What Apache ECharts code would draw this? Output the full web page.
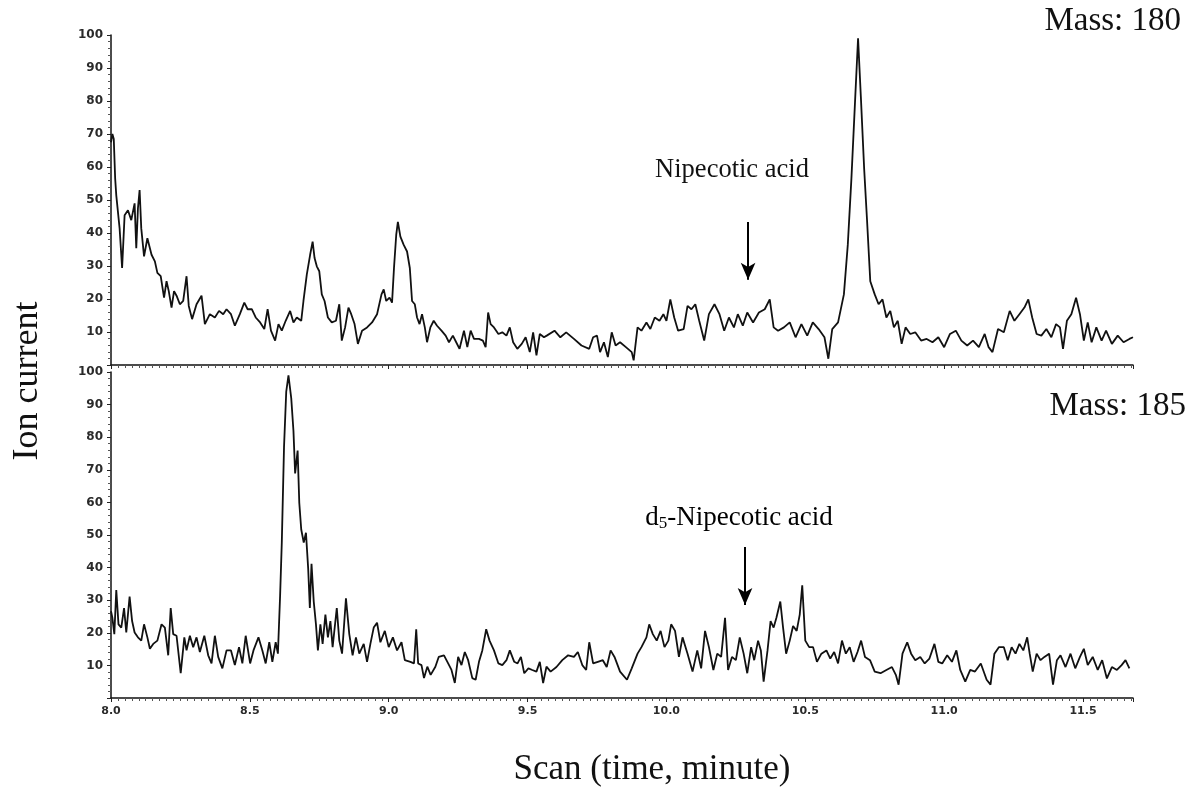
<!DOCTYPE html>
<html><head><meta charset="utf-8">
<script src="https://cdn.jsdelivr.net/npm/echarts@6/dist/echarts.min.js"></script>
<style>html,body{margin:0;padding:0;background:#fff}#c{width:1198px;height:787px}</style>
</head><body><div id="c"></div>
<script>
// ---- data (time in minutes, relative ion current %) ----
const mass180 = [
[8.000,67.5],[8.005,70.0],[8.010,68.5],[8.015,56.5],[8.019,51.4],[8.031,41.4],[8.040,29.4],[8.049,45.4],[8.061,46.9],[8.073,43.9],[8.085,49.0],[8.091,35.4],[8.097,47.5],[8.103,53.0],[8.109,41.4],[8.119,32.9],[8.131,38.4],[8.146,33.4],[8.158,31.4],[8.167,27.9],[8.179,26.9],[8.191,20.4],[8.200,25.4],[8.208,22.4],[8.218,17.4],[8.227,22.4],[8.236,21.0],[8.248,18.4],[8.260,19.4],[8.272,26.9],[8.280,17.9],[8.292,13.9],[8.308,18.4],[8.326,21.0],[8.338,12.4],[8.356,15.4],[8.374,14.4],[8.389,16.4],[8.404,15.4],[8.416,16.9],[8.432,15.4],[8.446,11.9],[8.464,15.4],[8.480,18.9],[8.492,16.9],[8.507,16.9],[8.521,14.4],[8.537,12.9],[8.552,10.9],[8.564,16.9],[8.576,10.4],[8.591,7.4],[8.603,12.4],[8.615,10.4],[8.629,13.4],[8.645,16.4],[8.657,12.9],[8.669,14.4],[8.685,13.4],[8.693,19.4],[8.705,27.4],[8.717,33.4],[8.726,37.4],[8.733,32.4],[8.741,29.9],[8.750,28.4],[8.759,21.4],[8.769,19.4],[8.781,14.4],[8.795,12.9],[8.810,13.4],[8.822,18.4],[8.831,7.4],[8.843,11.4],[8.855,17.4],[8.865,15.4],[8.877,12.4],[8.889,6.4],[8.904,10.4],[8.922,11.4],[8.940,12.9],[8.958,15.4],[8.974,21.4],[8.982,22.9],[8.991,19.4],[9.003,20.4],[9.012,18.9],[9.019,29.4],[9.027,39.4],[9.033,43.4],[9.042,38.9],[9.054,36.4],[9.066,34.4],[9.076,29.4],[9.084,19.4],[9.094,18.4],[9.102,14.4],[9.111,12.4],[9.120,15.4],[9.130,11.4],[9.138,6.9],[9.150,11.4],[9.162,13.4],[9.174,11.9],[9.190,10.4],[9.205,8.9],[9.217,6.9],[9.231,8.9],[9.243,6.9],[9.255,4.9],[9.271,10.4],[9.283,5.4],[9.295,10.4],[9.307,7.9],[9.325,7.9],[9.339,7.4],[9.349,5.4],[9.358,15.9],[9.367,12.4],[9.379,11.4],[9.395,9.4],[9.409,9.9],[9.424,8.9],[9.436,11.4],[9.448,6.9],[9.463,4.9],[9.479,6.4],[9.493,8.4],[9.508,3.9],[9.520,9.9],[9.532,2.9],[9.544,9.4],[9.559,8.4],
[9.569,8.9],[9.597,10.4],[9.618,8.4],[9.639,9.9],[9.667,7.9],[9.694,5.9],[9.722,4.9],[9.736,8.4],[9.750,8.9],[9.761,3.9],[9.775,6.9],[9.789,2.4],[9.803,9.9],[9.817,5.9],[9.833,6.9],[9.854,5.4],[9.875,3.9],[9.882,1.4],[9.896,11.4],[9.910,10.4],[9.928,12.9],[9.942,10.9],[9.958,14.4],[9.975,13.4],[9.989,15.4],[10.000,13.4],[10.014,19.9],[10.028,14.4],[10.042,10.4],[10.062,10.9],[10.076,17.9],[10.090,16.9],[10.104,18.4],[10.118,13.4],[10.136,7.4],[10.153,15.4],[10.173,18.4],[10.191,15.4],[10.208,10.4],[10.225,14.4],[10.243,11.4],[10.257,15.4],[10.275,11.9],[10.291,15.9],[10.312,12.9],[10.333,15.9],[10.354,16.9],[10.372,19.9],[10.386,11.4],[10.402,10.4],[10.423,11.4],[10.444,12.9],[10.465,8.4],[10.486,12.4],[10.507,8.9],[10.527,12.9],[10.548,10.9],[10.569,8.4],[10.583,1.9],[10.597,10.9],[10.618,12.9],[10.639,21.4],[10.653,36.4],[10.666,56.4],[10.680,81.4],[10.690,99.0],[10.700,81.4],[10.712,59.4],[10.722,44.4],[10.734,25.4],[10.750,21.4],[10.764,18.4],[10.778,19.9],[10.792,14.4],[10.806,16.4],[10.819,11.4],[10.833,13.4],[10.847,6.4],[10.861,11.4],[10.878,9.4],[10.896,9.9],[10.917,7.4],[10.937,7.9],[10.958,6.9],[10.979,8.4],[11.000,5.4],[11.021,9.4],[11.042,10.4],[11.062,7.4],[11.083,5.9],[11.104,7.4],[11.125,5.4],[11.146,9.4],[11.160,5.4],[11.174,3.9],[11.194,10.9],[11.215,9.9],[11.236,16.4],[11.253,13.4],[11.271,15.4],[11.289,17.4],[11.303,19.9],[11.317,14.4],[11.333,9.4],[11.350,8.9],[11.368,10.9],[11.386,8.4],[11.403,12.4],[11.417,11.4],[11.428,4.9],[11.442,13.4],[11.458,15.4],[11.475,20.4],[11.489,15.4],[11.503,7.4],[11.517,12.9],[11.531,6.9],[11.548,11.4],[11.567,7.4],[11.583,10.4],[11.604,6.4],[11.625,8.9],[11.646,6.9],[11.667,7.9],[11.680,8.4]
];
const mass185 = [
[8.000,26.6],[8.005,24.6],[8.012,19.6],[8.019,33.1],[8.027,22.6],[8.037,21.6],[8.047,27.6],[8.055,20.1],[8.067,31.1],[8.076,23.6],[8.085,20.1],[8.097,18.6],[8.109,17.6],[8.119,22.6],[8.131,18.6],[8.140,15.1],[8.152,16.6],[8.167,17.6],[8.182,22.6],[8.194,21.6],[8.206,13.1],[8.215,27.6],[8.224,19.6],[8.236,19.1],[8.251,7.6],[8.264,18.6],[8.272,14.6],[8.284,19.1],[8.296,15.6],[8.308,18.6],[8.320,14.1],[8.336,19.1],[8.350,13.1],[8.362,10.6],[8.374,19.1],[8.386,12.6],[8.401,9.1],[8.416,14.6],[8.432,14.6],[8.446,10.1],[8.461,15.6],[8.473,10.6],[8.485,19.1],[8.501,10.6],[8.513,14.6],[8.531,18.6],[8.545,14.6],[8.557,10.6],[8.570,17.1],[8.581,11.1],[8.593,17.1],[8.601,13.6],[8.609,31.6],[8.615,47.7],[8.623,76.9],[8.631,94.0],[8.639,99.0],[8.649,92.0],[8.657,81.9],[8.663,68.9],[8.672,75.9],[8.678,59.8],[8.685,51.7],[8.694,47.7],[8.702,50.7],[8.710,39.7],[8.716,27.6],[8.722,41.2],[8.730,29.6],[8.738,22.6],[8.745,14.6],[8.754,22.6],[8.762,16.6],[8.772,25.6],[8.781,18.6],[8.790,23.6],[8.798,15.6],[8.813,27.6],[8.822,17.6],[8.832,13.6],[8.846,30.6],[8.858,19.6],[8.870,13.1],[8.882,18.6],[8.894,13.6],[8.910,16.6],[8.922,11.1],[8.934,16.6],[8.946,21.6],[8.958,23.1],[8.970,17.1],[8.986,20.6],[9.000,15.6],[9.015,18.6],[9.030,14.6],[9.046,17.1],[9.058,11.6],[9.078,11.1],[9.091,10.6],[9.099,21.1],[9.106,10.6],[9.118,10.1],[9.127,6.1],[9.139,9.6],[9.151,7.1],[9.168,9.6],[9.180,12.6],[9.199,13.1],[9.214,10.6],[9.226,8.6],[9.238,4.6],[9.250,12.6],[9.262,10.1],[9.274,14.1],[9.286,11.6],[9.301,6.1],[9.313,5.6],[9.325,11.1],[9.337,14.6],[9.351,21.1],[9.363,17.6],[9.379,14.6],[9.395,10.6],[9.409,10.1],[9.424,11.6],[9.436,14.6],[9.452,11.1],[9.464,10.6],[9.476,12.6],[9.488,7.6],[9.503,9.1],[9.517,8.6],[9.532,8.1],[9.544,11.1],[9.556,4.6],[9.568,9.6],
[9.583,8.1],[9.604,9.5],[9.625,11.6],[9.646,13.1],[9.667,12.6],[9.681,14.1],[9.697,10.1],[9.711,8.6],[9.722,17.1],[9.736,10.6],[9.753,11.1],[9.771,11.6],[9.785,9.5],[9.799,14.6],[9.813,12.6],[9.833,8.1],[9.858,5.6],[9.875,9.1],[9.896,13.6],[9.910,15.6],[9.928,18.6],[9.938,22.6],[9.951,19.6],[9.965,17.6],[9.979,20.6],[9.993,15.6],[10.007,17.6],[10.017,22.6],[10.031,20.6],[10.045,12.6],[10.058,18.6],[10.076,13.6],[10.094,8.1],[10.111,14.6],[10.125,9.1],[10.139,20.6],[10.153,15.6],[10.169,8.6],[10.183,13.6],[10.197,12.6],[10.211,24.6],[10.222,8.6],[10.236,12.6],[10.250,11.6],[10.264,18.6],[10.278,13.6],[10.291,7.6],[10.305,15.6],[10.316,11.6],[10.330,17.6],[10.340,14.6],[10.350,5.0],[10.364,14.6],[10.375,23.6],[10.386,21.6],[10.396,24.6],[10.410,29.6],[10.420,21.6],[10.431,13.6],[10.444,17.6],[10.456,22.1],[10.469,20.6],[10.480,25.6],[10.489,34.6],[10.500,17.6],[10.514,15.6],[10.528,15.6],[10.542,11.1],[10.558,13.6],[10.576,14.6],[10.590,12.1],[10.604,14.1],[10.618,10.6],[10.632,17.6],[10.646,13.6],[10.660,15.6],[10.674,11.1],[10.688,14.1],[10.701,17.6],[10.715,12.6],[10.733,11.6],[10.750,8.1],[10.771,7.6],[10.792,8.6],[10.812,9.5],[10.826,7.1],[10.836,4.1],[10.850,13.6],[10.867,17.1],[10.881,13.6],[10.896,11.6],[10.914,12.6],[10.930,10.6],[10.947,12.1],[10.965,16.6],[10.979,11.1],[10.993,10.6],[11.011,13.1],[11.028,11.1],[11.044,14.6],[11.058,8.6],[11.076,5.0],[11.094,8.6],[11.111,8.1],[11.132,10.6],[11.153,5.6],[11.167,4.1],[11.181,13.6],[11.197,15.6],[11.215,15.6],[11.229,11.6],[11.243,15.6],[11.257,13.6],[11.271,16.6],[11.285,14.6],[11.299,18.6],[11.308,13.6],[11.319,8.1],[11.333,13.6],[11.347,11.6],[11.361,12.6],[11.378,13.6],[11.392,4.1],[11.406,11.6],[11.419,13.1],[11.437,9.5],[11.455,13.6],[11.472,9.1],[11.489,12.6],[11.503,15.1],[11.517,10.1],[11.535,12.6],[11.553,8.6],[11.569,11.6],[11.586,6.0],[11.604,9.5],[11.622,8.6],[11.639,10.1],[11.653,11.6],[11.667,9.1]
];
const xRange = [8.0, 11.68];
const yRange = [0, 100];
const xStep = 0.5;
const yStep = 10;
// arrows: [time, from value, to value]
const arrowTop = [10.294, 43.3, 25.8];
const arrowBottom = [10.283, 46.3, 28.5];
const massLabels = ['Mass: 180', 'Mass: 185'];
const compoundLabels = ['Nipecotic acid', 'd5-Nipecotic acid'];
const axisTitles = ['Ion current', 'Scan (time, minute)'];

const chart = echarts.init(document.getElementById('c'), null, {renderer: 'canvas'});
const tickFont = {fontFamily: '"DejaVu Sans", sans-serif', fontWeight: 'bold', color: '#2a2a2a'};

function makeX(gi, showLabels) {
  return {
    type: 'value', gridIndex: gi, min: xRange[0], max: xRange[1], interval: xStep,
    axisLine: {show: true, onZero: false, lineStyle: {color: '#111', width: 1.5}},
    axisTick: {show: true, length: 4, lineStyle: {color: '#222', width: 1}},
    minorTick: {show: true, splitNumber: 20, length: 3, lineStyle: {color: '#555', width: 1}},
    splitLine: {show: false},
    axisLabel: Object.assign({
      show: showLabels, fontSize: 11, margin: 8, showMaxLabel: false,
      formatter: v => Math.abs(v * 2 - Math.round(v * 2)) < 1e-6 ? v.toFixed(1) : ''
    }, tickFont)
  };
}
function makeY(gi) {
  return {
    type: 'value', gridIndex: gi, min: yRange[0], max: yRange[1], interval: yStep,
    axisLine: {show: true, lineStyle: {color: '#111', width: 1.5}},
    axisTick: {show: true, length: 4, lineStyle: {color: '#222'}},
    minorTick: {show: true, splitNumber: 5, length: 3, lineStyle: {color: '#555'}},
    splitLine: {show: false},
    axisLabel: Object.assign({fontSize: 12, margin: 8, formatter: v => v === 0 ? '' : String(v)}, tickFont)
  };
}
function arrowLine(a) {
  return {
    silent: true, symbol: ['none', 'arrow'], symbolSize: [11, 17], animation: false,
    lineStyle: {color: '#000', width: 2, type: 'solid'}, label: {show: false}, emphasis: {disabled: true},
    data: [[{coord: [a[0], a[1]]}, {coord: [a[0], a[2]]}]]
  };
}
const serif = '"Liberation Serif", "DejaVu Serif", serif';

chart.setOption({
  animation: false,
  backgroundColor: '#fff',
  grid: [
    {left: 111, right: 65, top: 35, height: 330},
    {left: 111, right: 65, top: 372, height: 326}
  ],
  xAxis: [makeX(0, false), makeX(1, true)],
  yAxis: [makeY(0), makeY(1)],
  series: [
    {type: 'line', xAxisIndex: 0, yAxisIndex: 0, data: mass180, showSymbol: false, smooth: false,
     lineStyle: {color: '#111', width: 1.8}, markLine: arrowLine(arrowTop)},
    {type: 'line', xAxisIndex: 1, yAxisIndex: 1, data: mass185, showSymbol: false, smooth: false,
     lineStyle: {color: '#111', width: 1.8}, markLine: arrowLine(arrowBottom)}
  ],
  graphic: [
    {type: 'text', x: 1181, y: 21, style: {text: massLabels[0], font: '33px ' + serif, fill: '#111', textAlign: 'right', textVerticalAlign: 'middle'}},
    {type: 'text', x: 1186, y: 406, style: {text: massLabels[1], font: '33px ' + serif, fill: '#111', textAlign: 'right', textVerticalAlign: 'middle'}},
    {type: 'text', x: 732, y: 170, style: {text: compoundLabels[0], font: '26.5px ' + serif, fill: '#111', textAlign: 'center', textVerticalAlign: 'middle'}},
    {type: 'text', x: 739, y: 518, style: {
      text: '{a|d}{s|5}{a|-Nipecotic acid}', textAlign: 'center', textVerticalAlign: 'middle',
      rich: {a: {fontFamily: serif, fontSize: 27, color: '#111'},
             s: {fontFamily: serif, fontSize: 17, color: '#111', padding: [12, 0, 0, 0]}}
    }},
    {type: 'text', x: 28, y: 381, rotation: Math.PI / 2, style: {
      text: axisTitles[0], font: '36px ' + serif, fill: '#111', textAlign: 'center', textVerticalAlign: 'middle'}},
    {type: 'text', x: 652, y: 770, style: {
      text: axisTitles[1], font: '35px ' + serif, fill: '#111', textAlign: 'center', textVerticalAlign: 'middle'}}
  ]
});
</script>
</body></html>
